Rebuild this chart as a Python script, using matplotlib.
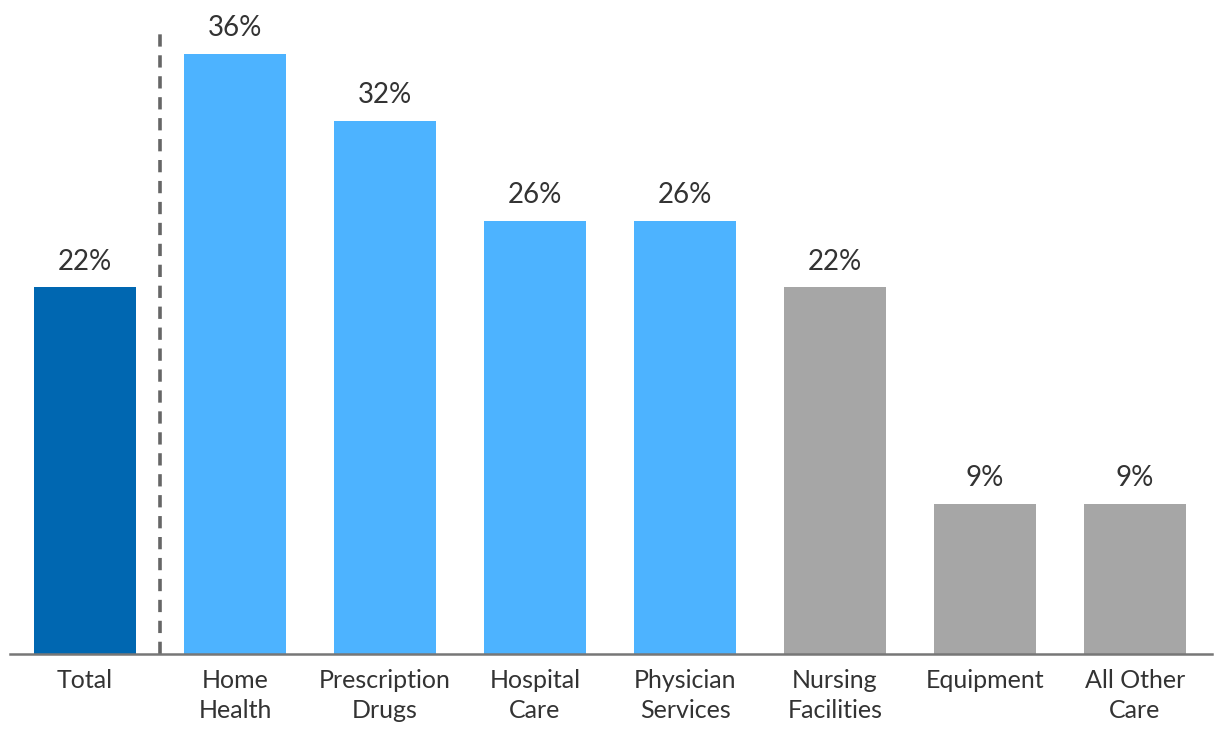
import matplotlib
matplotlib.use('Agg')
import matplotlib.pyplot as plt

# --- data ---
categories = ['Total', 'Home\nHealth', 'Prescription\nDrugs', 'Hospital\nCare',
              'Physician\nServices', 'Nursing\nFacilities', 'Equipment', 'All Other\nCare']
values = [22, 36, 32, 26, 26, 22, 9, 9]
colors = ['#0067B1', '#4DB3FF', '#4DB3FF', '#4DB3FF', '#4DB3FF', '#A6A6A6', '#A6A6A6', '#A6A6A6']

plt.rcParams['font.family'] = ['Lato', 'DejaVu Sans']

fig = plt.figure(figsize=(12.2, 7.4), dpi=100)
ax = fig.add_axes([10 / 1220, 86 / 740, 1202 / 1220, 634 / 740])

x = list(range(len(categories)))
ax.bar(x, values, width=0.68, color=colors, zorder=2)

for xi, v in zip(x, values):
    ax.text(xi, v + 0.75, f'{v}%', ha='center', va='bottom', fontsize=20, color='#333333')

# divider between total and categories
ax.plot([0.5, 0.5], [0, 37.7], linestyle=(0, (3.4, 2.4)), color='#666666', linewidth=2.6, zorder=1)

ax.set_xlim(-0.5, 7.513)
ax.set_ylim(0, 38.04)
ax.set_xticks(x)
ax.set_xticklabels(categories, fontsize=18, color='#333333', linespacing=1.35)
ax.tick_params(axis='x', length=0, pad=11)
ax.set_yticks([])
for s in ['top', 'right', 'left']:
    ax.spines[s].set_visible(False)
ax.spines['bottom'].set_color('#777777')
ax.spines['bottom'].set_linewidth(1.8)

fig.savefig('out.png', dpi=100)
